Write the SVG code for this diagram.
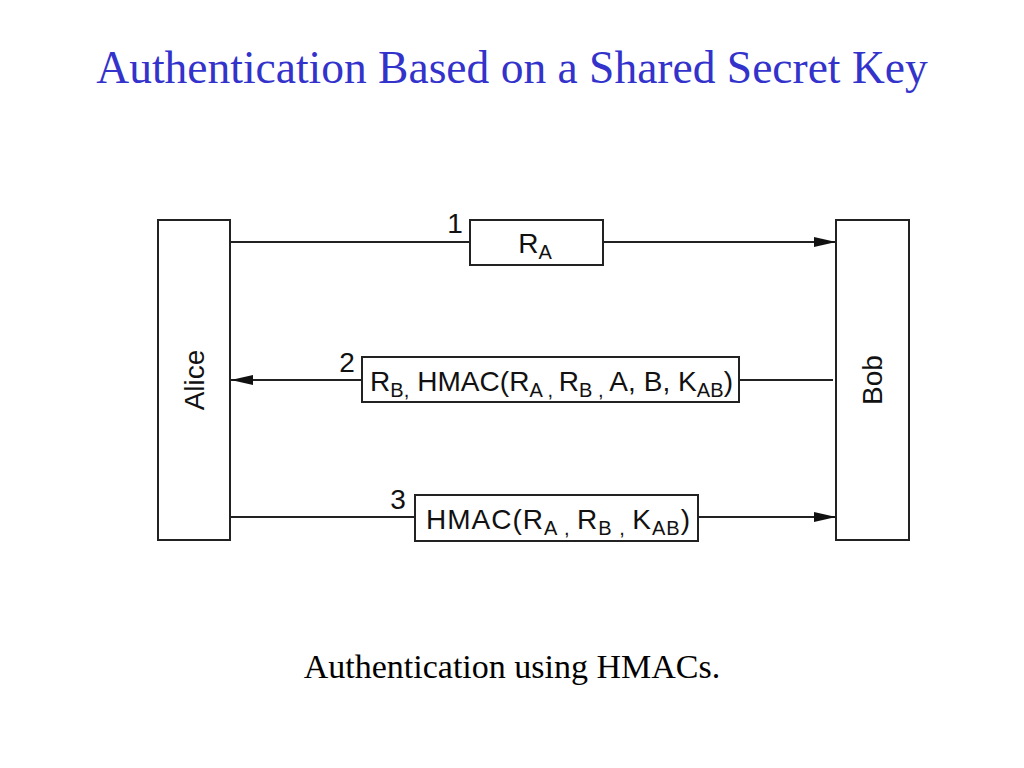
<svg xmlns="http://www.w3.org/2000/svg" width="1024" height="768" viewBox="0 0 1024 768">
<style>
.box{fill:#fff;stroke:#222;stroke-width:2}
.ln{stroke:#222;stroke-width:2;fill:none}
.t{font-family:"Liberation Sans",Arial,sans-serif;font-size:28px;fill:#111}
.s{font-size:20px}
.title{font-family:"Liberation Serif","Times New Roman",serif;font-size:45.5px;fill:#3333CC}
.cap{font-family:"Liberation Serif","Times New Roman",serif;font-size:34px;fill:#000}
</style>
<defs>
<marker id="ah" markerWidth="22" markerHeight="10" refX="22" refY="5" orient="auto" markerUnits="userSpaceOnUse">
<path d="M0,0 L22,5 L0,10 Z" fill="#111"/>
</marker>
</defs>
<rect width="1024" height="768" fill="#fff"/>
<text class="title" x="512" y="83" text-anchor="middle">Authentication Based on a Shared Secret Key</text>
<g id="connectors">
<line class="ln" x1="231" y1="242" x2="470" y2="242"/>
<line class="ln" x1="603" y1="242" x2="836" y2="242" marker-end="url(#ah)"/>
<line class="ln" x1="833" y1="380" x2="739" y2="380"/>
<line class="ln" x1="362" y1="380" x2="231" y2="380" marker-end="url(#ah)"/>
<line class="ln" x1="231" y1="517" x2="415" y2="517"/>
<line class="ln" x1="698" y1="517" x2="836" y2="517" marker-end="url(#ah)"/>
</g>
<g id="alice">
<rect class="box" x="158" y="220" width="72" height="320"/>
<text class="t" transform="translate(204,380) rotate(-90)" text-anchor="middle">Alice</text>
</g>
<g id="bob">
<rect class="box" x="836" y="220" width="73" height="320"/>
<text class="t" transform="translate(882,380) rotate(-90)" text-anchor="middle">Bob</text>
</g>
<g id="msg1">
<text class="t" x="455" y="233" text-anchor="middle">1</text>
<rect class="box" x="470" y="220" width="133" height="45"/>
<text class="t" x="535" y="253" text-anchor="middle">R<tspan class="s" dy="6">A</tspan></text>
</g>
<g id="msg2">
<text class="t" x="347" y="372" text-anchor="middle">2</text>
<rect class="box" x="362" y="357" width="377" height="45"/>
<text class="t" x="370" y="391" textLength="363" lengthAdjust="spacing">R<tspan class="s" dy="6">B,</tspan><tspan dy="-6"> HMAC(R</tspan><tspan class="s" dy="6">A , </tspan><tspan dy="-6">R</tspan><tspan class="s" dy="6">B , </tspan><tspan dy="-6">A, B, K</tspan><tspan class="s" dy="6">AB</tspan><tspan dy="-6">)</tspan></text>
</g>
<g id="msg3">
<text class="t" x="398" y="509" text-anchor="middle">3</text>
<rect class="box" x="415" y="495" width="283" height="46"/>
<text class="t" x="426" y="529" textLength="264" lengthAdjust="spacing">HMAC(R<tspan class="s" dy="6">A , </tspan><tspan dy="-6">R</tspan><tspan class="s" dy="6">B , </tspan><tspan dy="-6">K</tspan><tspan class="s" dy="6">AB</tspan><tspan dy="-6">)</tspan></text>
</g>
<text class="cap" x="512" y="678" text-anchor="middle">Authentication using HMACs.</text>
</svg>
